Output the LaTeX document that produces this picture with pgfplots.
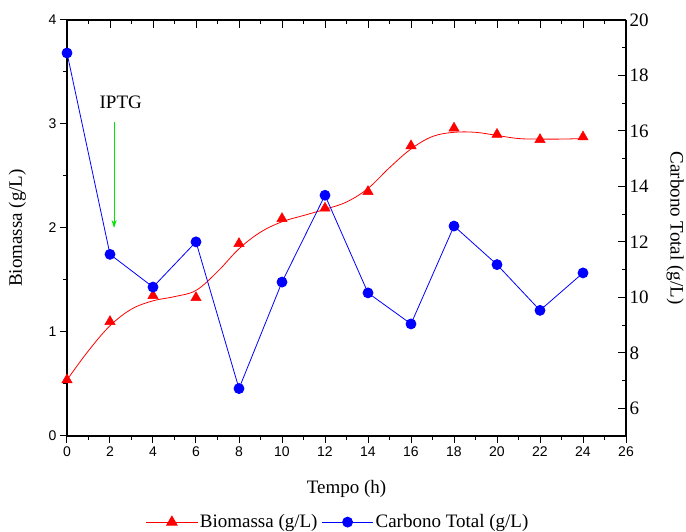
\documentclass[border=0pt]{standalone}
\usepackage{fontspec}
\setmainfont{Liberation Serif}
\newfontfamily\arialf{Liberation Sans}
\usepackage{pgfplots}
\pgfplotsset{compat=1.18}
\usetikzlibrary{arrows.meta}
\definecolor{pRed}{RGB}{255,0,0}
\definecolor{pBlue}{RGB}{0,0,255}
\definecolor{pGreen}{RGB}{0,230,0}
\begin{document}
\begin{tikzpicture}
\begin{axis}[
  scale only axis, width=559pt, height=416pt,
  at={(0,0)}, anchor=south west,
  xmin=0, xmax=26, ymin=0, ymax=4,
  axis x line*=bottom, axis y line*=left,
  axis line style={-, line width=1.2pt},
  xtick={0,2,...,26}, minor x tick num=1,
  ytick={0,1,2,3,4}, minor y tick num=1,
  tick align=outside,
  major tick length=7pt, minor tick length=4pt,
  every tick/.style={black, line width=1pt},
  ticklabel style={font=\arialf\fontsize{14}{16}\selectfont},
  /pgf/number format/assume math mode=true,
  xlabel={Tempo (h)}, ylabel={Biomassa (g/L)},
  label style={font=\fontsize{19}{22}\selectfont},
  xlabel style={at={(axis description cs:0.5,-0.127)}, anchor=center},
  ylabel style={at={(axis description cs:-0.089,0.5)}, anchor=center},
  legend style={at={(0.485,-0.207)}, anchor=center, draw=none, fill=none,
    legend columns=2, font=\fontsize{19}{22}\selectfont,
    /tikz/every even column/.append style={column sep=2pt}},
  legend image code/.code={\draw[mark repeat=2,mark phase=2] plot coordinates {(0cm,0cm) (0.9cm,0cm) (1.8cm,0cm)};},
]
\addlegendimage{pRed, line width=0.8pt, mark=triangle*, mark size=6pt}
\addlegendentry{Biomassa (g/L)}
\addlegendimage{pBlue, line width=0.8pt, mark=*, mark size=5pt}
\addlegendentry{Carbono Total (g/L)}
% fitted curve as drawn
\addplot[pRed, line width=0.8pt, smooth, tension=0.6, forget plot] coordinates {
 (0,0.54) (1,0.82) (2,1.06) (3,1.22) (4,1.30) (5,1.34) (6,1.40) (7,1.58) (8,1.80)
 (9,1.96) (10,2.06) (11,2.12) (12,2.18) (13,2.25) (14,2.38) (15,2.58) (16,2.76)
 (17,2.88) (18,2.92) (19,2.92) (20,2.89) (21,2.86) (22,2.855) (23,2.855) (24,2.86)};
\addplot[only marks, mark=triangle*, mark size=6pt, pRed, forget plot] coordinates {
 (0,0.54) (2,1.10) (4,1.35) (6,1.33) (8,1.85) (10,2.09) (12,2.19)
 (14,2.35) (16,2.79) (18,2.96) (20,2.90) (22,2.85) (24,2.875)};
\draw[pGreen, line width=0.8pt, -{Stealth[length=8pt,width=5pt]}] (axis cs:2.19,3.02) -- (axis cs:2.19,2.0);
\node[font=\fontsize{19}{22}\selectfont] at (axis cs:2.5,3.21) {IPTG};
\end{axis}
\begin{axis}[
  scale only axis, width=559pt, height=416pt,
  at={(0,0)}, anchor=south west,
  xmin=0, xmax=26, ymin=5, ymax=20,
  axis x line*=top, axis y line*=right,
  axis line style={-, line width=1.2pt},
  xtick={}, minor xtick={0,1,...,26}, xticklabels={},
  ytick={6,8,...,20}, minor y tick num=1,
  tick align=inside,
  major tick length=8pt, minor tick length=4pt,
  every tick/.style={black, line width=1pt},
  ticklabel style={font=\fontsize{19}{22}\selectfont},
  /pgf/number format/assume math mode=true,
  ylabel={Carbono Total (g/L)},
  ylabel style={at={(axis description cs:1.088,0.5)}, anchor=center, rotate=180, font=\fontsize{19}{22}\selectfont},
]
\addplot[pBlue, line width=0.8pt, mark=*, mark size=5pt] coordinates {
 (0,18.81) (2,11.55) (4,10.37) (6,12.0) (8,6.71) (10,10.55) (12,13.68)
 (14,10.16) (16,9.04) (18,12.57) (20,11.18) (22,9.53) (24,10.88)};
\end{axis}
\pgfresetboundingbox
\path[use as bounding box] (-67pt,-96pt) rectangle (619pt,436pt);
\end{tikzpicture}
\end{document}
